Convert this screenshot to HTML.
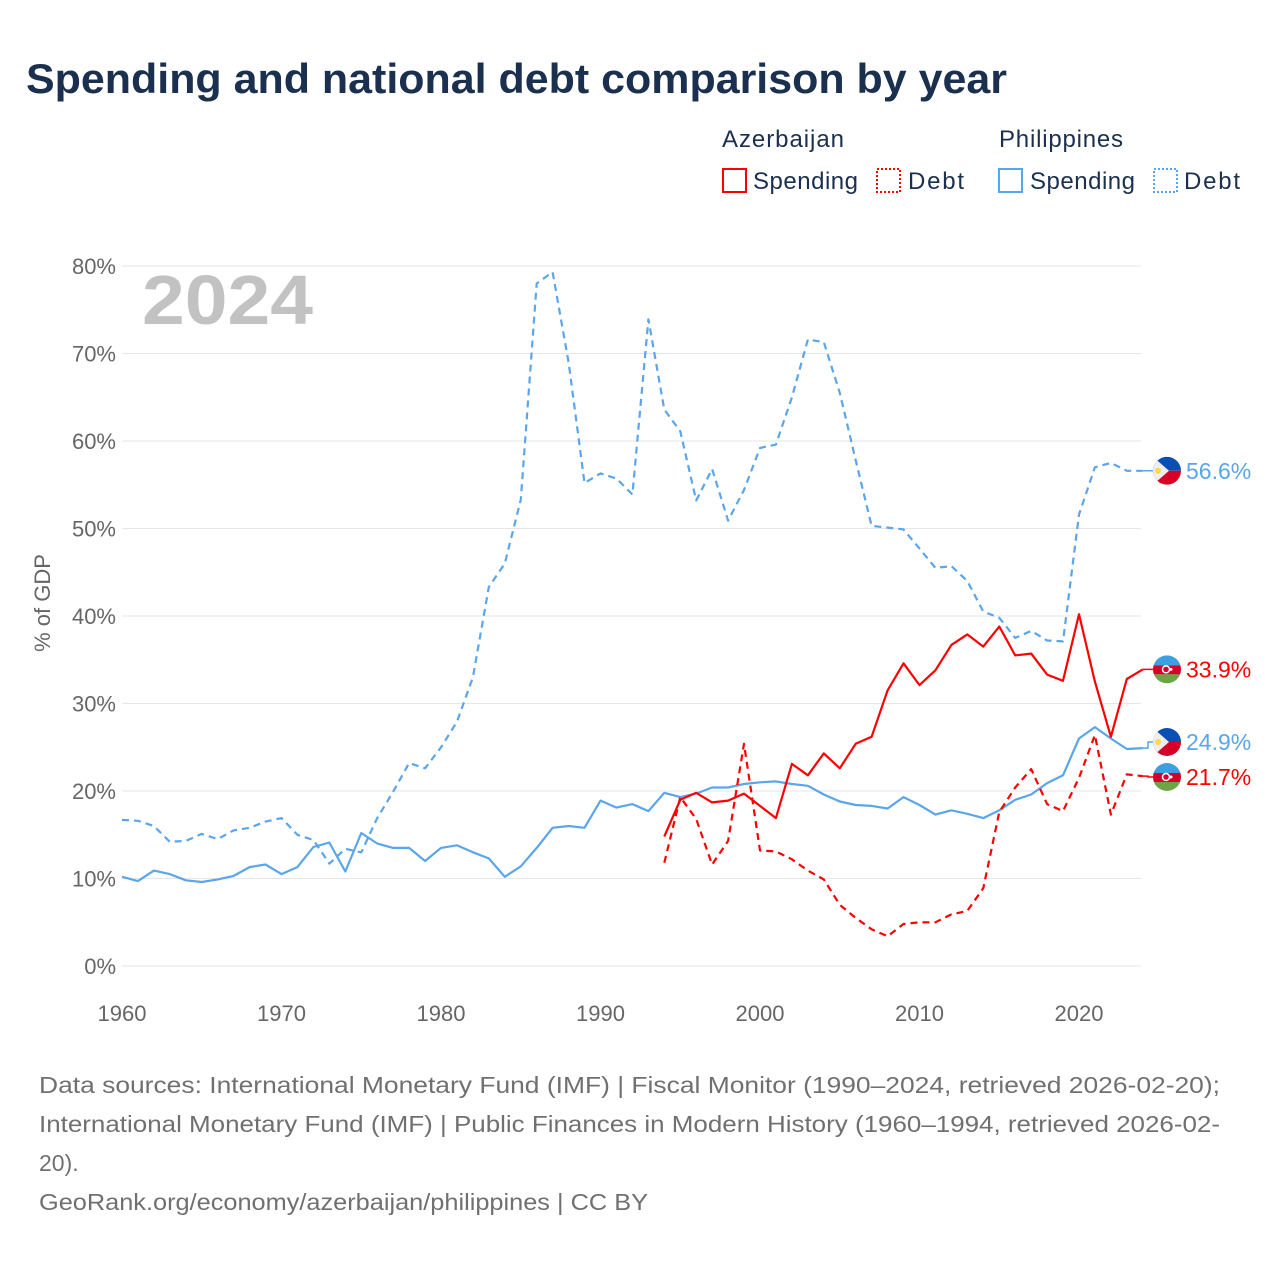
<!DOCTYPE html>
<html><head><meta charset="utf-8">
<style>
body{margin:0;background:#fff;width:1280px;height:1280px;overflow:hidden;font-family:"Liberation Sans",sans-serif}
svg text{font-family:"Liberation Sans",sans-serif}
</style></head>
<body>
<svg id="chart" width="1280" height="1280" xmlns="http://www.w3.org/2000/svg">
<text x="26" y="93" font-size="42" font-weight="bold" fill="#1b2f4e" textLength="981" lengthAdjust="spacingAndGlyphs">Spending and national debt comparison by year</text>
<g font-size="24" fill="#1b2f4e">
<text x="722" y="147" textLength="122">Azerbaijan</text>
<text x="999" y="147" textLength="124">Philippines</text>
<g><rect x="723" y="169" width="23" height="23" fill="none" stroke="#ff0000" stroke-width="2"/><text x="753" y="189" textLength="105">Spending</text></g>
<g><rect x="877" y="169" width="23" height="23" fill="none" stroke="#ff0000" stroke-width="2" stroke-dasharray="2 2"/><text x="908" y="189" textLength="56">Debt</text></g>
<g><rect x="999" y="169" width="23" height="23" fill="none" stroke="#5aa5ec" stroke-width="2"/><text x="1030" y="189" textLength="105">Spending</text></g>
<g><rect x="1154" y="169" width="23" height="23" fill="none" stroke="#5aa5ec" stroke-width="2" stroke-dasharray="2 2"/><text x="1184" y="189" textLength="56">Debt</text></g>
</g>
<text x="142" y="324" font-size="70" font-weight="bold" fill="#c2c2c2" textLength="171" lengthAdjust="spacingAndGlyphs">2024</text>
<text transform="translate(50,603) rotate(-90)" text-anchor="middle" font-size="22" fill="#666">% of GDP</text>
<g id="grid"></g><g id="series"></g><g id="ends"></g>
<g font-size="23" fill="#707070">
<text x="39" y="1093" textLength="1181" lengthAdjust="spacingAndGlyphs">Data sources: International Monetary Fund (IMF) | Fiscal Monitor (1990–2024, retrieved 2026-02-20);</text>
<text x="39" y="1132" textLength="1181" lengthAdjust="spacingAndGlyphs">International Monetary Fund (IMF) | Public Finances in Modern History (1960–1994, retrieved 2026-02-</text>
<text x="39" y="1171">20).</text>
<text x="39" y="1210" textLength="609" lengthAdjust="spacingAndGlyphs">GeoRank.org/economy/azerbaijan/philippines | CC BY</text>
</g>
</svg>
<script>
const yTicks=[0,10,20,30,40,50,60,70,80];
const xTicks=[1960,1970,1980,1990,2000,2010,2020];
const phYears0=1960;
const phSpending=[10.2,9.7,10.9,10.5,9.8,9.6,9.9,10.3,11.3,11.6,10.5,11.3,13.6,14.1,10.8,15.2,14.0,13.5,13.5,12.0,13.5,13.8,13.0,12.3,10.2,11.4,13.5,15.8,16.0,15.8,18.9,18.1,18.5,17.7,19.8,19.3,19.7,20.4,20.4,20.8,21.0,21.1,20.8,20.6,19.6,18.8,18.4,18.3,18.0,19.3,18.4,17.3,17.8,17.4,16.9,17.8,19.0,19.6,20.9,21.8,26.0,27.3,26.0,24.8,24.9];
const phDebt=[16.7,16.6,16.0,14.2,14.3,15.1,14.5,15.5,15.8,16.5,16.9,15.0,14.4,11.7,13.4,13.0,16.9,19.9,23.2,22.6,25.0,27.9,33.0,43.3,46.0,53.3,78.0,79.3,69.0,55.2,56.3,55.7,53.9,73.9,63.6,61.1,53.2,56.8,50.9,54.4,59.2,59.6,65.0,71.6,71.3,65.5,57.8,50.3,50.1,49.9,47.7,45.5,45.7,44.0,40.5,39.8,37.5,38.3,37.2,37.1,51.6,57.0,57.5,56.6,56.6];
const azYears0=1994;
const azSpending=[14.8,19.0,19.8,18.7,18.9,19.7,18.3,16.9,23.1,21.8,24.3,22.6,25.4,26.2,31.5,34.6,32.1,33.8,36.7,37.9,36.5,38.8,35.5,35.7,33.3,32.6,40.2,32.5,26.2,32.8,33.9];
const azDebt=[11.8,19.3,16.8,11.6,14.3,25.4,13.2,13.1,12.2,10.9,9.9,7.0,5.5,4.2,3.4,4.8,5.0,5.0,5.9,6.3,8.9,17.6,20.4,22.5,18.5,17.7,21.5,26.4,17.3,21.9,21.7];
const endLabels=["56.6%","33.9%","24.9%","21.7%"];
const NS="http://www.w3.org/2000/svg";
const X=y=>122+(y-1960)*15.95;
const Y=v=>966-v*8.75;
function mk(t,a,p){const e=document.createElementNS(NS,t);for(const k in a)e.setAttribute(k,a[k]);p.appendChild(e);return e;}
const grid=document.getElementById('grid');
yTicks.forEach(v=>{
 const l=mk('line',{x1:122,x2:1141,y1:Y(v),y2:Y(v),stroke:'#e6e6e6','stroke-width':1},grid);
 
 
 const t=mk('text',{x:116,y:Y(v)+8,'text-anchor':'end','font-size':22,fill:'#666'},grid);
 
 
 t.textContent=v+'%';
});
xTicks.forEach(v=>{
 const t=mk('text',{x:X(v),y:1021,'text-anchor':'middle','font-size':22,fill:'#666'},grid);
 
 
 t.textContent=v;
});
const ser=document.getElementById('series');
function line(arr,y0,col,dash,name){
 const d=arr.map((v,i)=>(i?'L':'M')+X(y0+i).toFixed(1)+' '+Y(v).toFixed(1)).join(' ');
 const p=mk('path',{d:d,fill:'none',stroke:col,'stroke-width':2.2,'stroke-linejoin':'round'},ser);
 if(dash)p.setAttribute('stroke-dasharray','7 5');
 
 
}
line(phDebt,phYears0,'#5aa5ec',true,'ph-debt-line');
line(phSpending,phYears0,'#5aa5ec',false,'ph-spending-line');
line(azDebt,azYears0,'#ff0000',true,'az-debt-line');
line(azSpending,azYears0,'#ff0000',false,'az-spending-line');
const ends=document.getElementById('ends');
const defs=mk('defs',{},ends);
function flag(cx,cy,type,id){
 const cp=mk('clipPath',{id:id},defs);mk('circle',{cx:cx,cy:cy,r:14},cp);
 const g=mk('g',{'clip-path':'url(#'+id+')'},ends);
 
 
 if(type==='ph'){
  mk('rect',{x:cx-14,y:cy-14,width:28,height:14,fill:'#0a50b4'},g);
  mk('rect',{x:cx-14,y:cy,width:28,height:14,fill:'#d80027'},g);
  mk('polygon',{points:(cx-14)+','+(cy-14)+' '+(cx+2)+','+cy+' '+(cx-14)+','+(cy+14),fill:'#eee'},g);
  mk('circle',{cx:cx-9,cy:cy,r:3,fill:'#ffda44'},g);
 }else{
  mk('rect',{x:cx-14,y:cy-14,width:28,height:10,fill:'#3d9ee0'},g);
  mk('rect',{x:cx-14,y:cy-4,width:28,height:9,fill:'#d80027'},g);
  mk('rect',{x:cx-14,y:cy+5,width:28,height:9,fill:'#6da544'},g);
  mk('circle',{cx:cx-1,cy:cy,r:3.5,fill:'none',stroke:'#fff','stroke-width':1.5},g);
  mk('circle',{cx:cx+4,cy:cy,r:1.5,fill:'#fff'},g);
 }
}
const endVals=[phDebt[64],azSpending[30],phSpending[64],azDebt[30]];
const endCols=['#5aa5ec','#ff0000','#5aa5ec','#ff0000'];
const endTypes=['ph','az','ph','az'];
const endY=[Y(endVals[0]),Y(endVals[1]),742,777];
endVals.forEach((v,i)=>{
 const c=mk('path',{d:'M'+X(2024)+' '+Y(v)+' H1148 V'+endY[i]+' H1153',fill:'none',stroke:endCols[i],'stroke-width':1.5},ends);
 
 
 flag(1167,endY[i],endTypes[i],'fc'+i);
 const t=mk('text',{x:1186,y:endY[i]+8,'font-size':23,fill:endCols[i]},ends);
 
 
 t.textContent=endLabels[i];
});
</script>
</body></html>
